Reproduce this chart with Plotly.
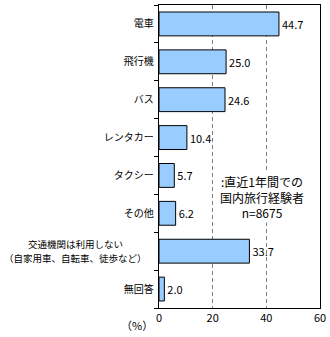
import plotly.graph_objects as go

categories = [
    "電車",
    "飛行機",
    "バス",
    "レンタカー",
    "タクシー",
    "その他",
    "交通機関は利用しない（自家用車、自転車、徒歩など）",
    "無回答",
]
# two-line label for the long category, drawn as separate text rows
long_label_lines = ["交通機関は利用しない", "（自家用車、自転車、徒歩など）"]
values = [44.7, 25.0, 24.6, 10.4, 5.7, 6.2, 33.7, 2.0]
x_ticks = [0, 20, 40, 60]
note_text = ":直近1年間での<br>国内旅行経験者<br>n=8675"

FONT = "Noto Sans CJK JP, sans-serif"
LONG = categories[6]

fig = go.Figure(
    go.Bar(
        y=categories,
        x=values,
        orientation="h",
        width=0.63,
        marker=dict(color="#99CCFF", line=dict(color="#000000", width=1)),
        text=[f"{v:.1f}" for v in values],
        textposition="outside",
        textfont=dict(size=11, color="#000000", family=FONT),
        cliponaxis=False,
    )
)

fig.update_layout(
    width=330,
    height=337,
    margin=dict(l=159, r=10, t=5, b=29),
    paper_bgcolor="white",
    plot_bgcolor="white",
    showlegend=False,
    font=dict(family=FONT, size=11, color="#000000"),
    bargap=0.37,
)

fig.update_xaxes(
    range=[0, 60],
    tickvals=x_ticks,
    ticktext=[str(t) for t in x_ticks],
    showgrid=True,
    gridcolor="#808080",
    griddash="4px,3px",
    gridwidth=1,
    zeroline=False,
    showline=True,
    linecolor="#000000",
    linewidth=1,
    mirror=True,
    ticks="",
    automargin=False,
    tickfont=dict(size=11, family=FONT),
)

fig.update_yaxes(
    categoryorder="array",
    categoryarray=categories,
    tickvals=categories,
    ticktext=[("" if c == LONG else c + " ") for c in categories],
    autorange="reversed",
    showline=True,
    linecolor="#000000",
    linewidth=1,
    mirror=True,
    ticks="outside",
    tickson="boundaries",
    ticklen=4,
    tickcolor="#000000",
    showgrid=False,
    automargin=False,
    tickfont=dict(size=10, family=FONT),
)

# the long category label, two centred rows
for line, shift in zip(long_label_lines, [7, -7]):
    fig.add_annotation(
        x=-0.52, y=LONG, xref="paper", yref="y",
        text=line, showarrow=False,
        xanchor="center", yanchor="middle",
        yshift=shift,
        font=dict(size=9.5, family=FONT, color="#000000"),
    )

# note on the sample, drawn over the gridlines
fig.add_annotation(
    x=0.64, y=0.366, xref="paper", yref="paper",
    text=note_text, showarrow=False,
    align="center", xanchor="center", yanchor="middle",
    bgcolor="white",
    font=dict(size=12, family=FONT, color="#000000"),
)

# unit label left of the x-axis
fig.add_annotation(
    x=-0.025, y=-0.055, xref="paper", yref="paper",
    text="（%）", showarrow=False,
    xanchor="right", yanchor="middle",
    font=dict(size=11, family=FONT, color="#000000"),
)

fig.write_html("out.html")
